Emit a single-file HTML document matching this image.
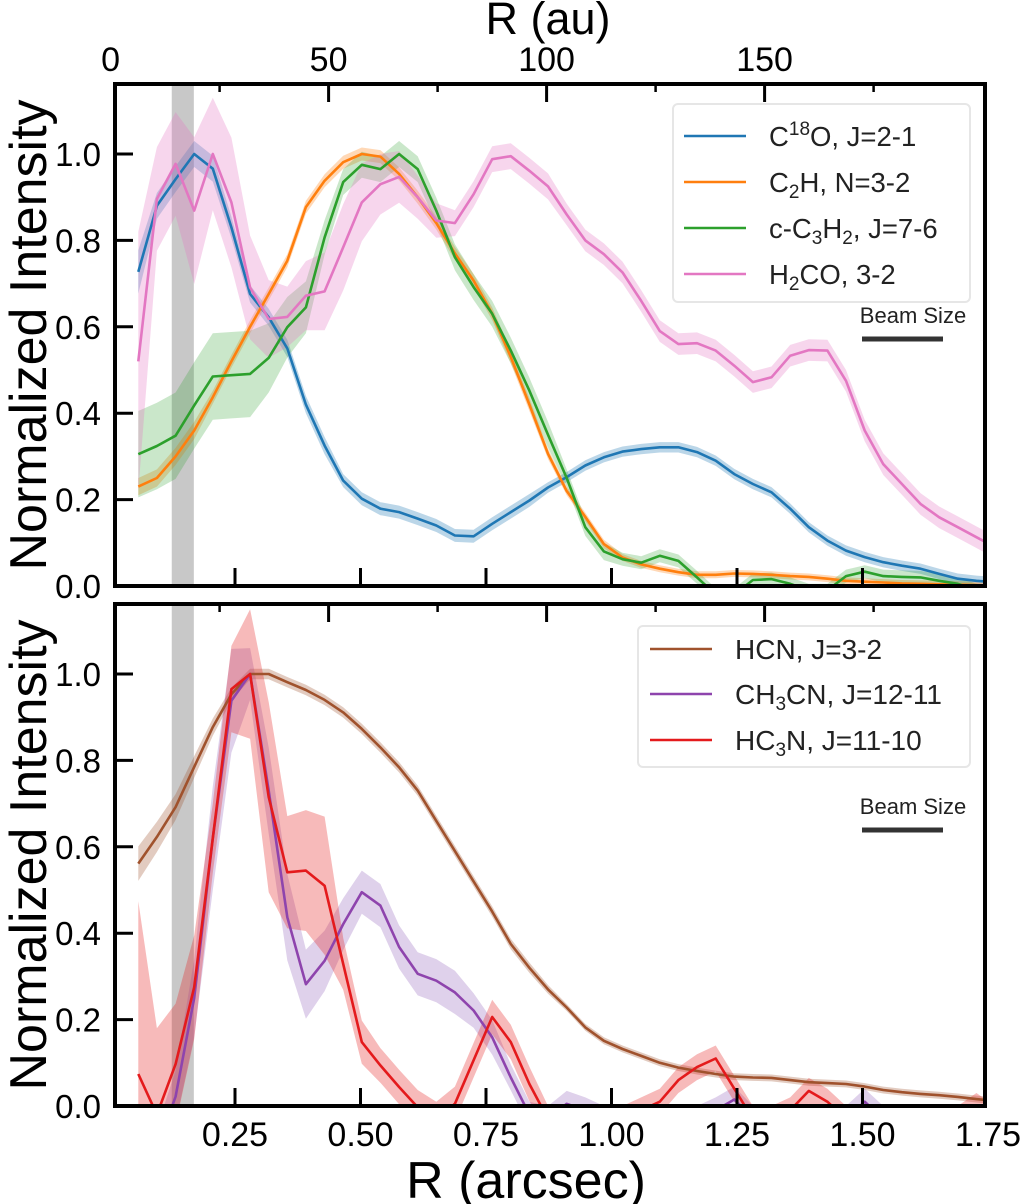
<!DOCTYPE html>
<html><head><meta charset="utf-8"><style>
html,body{margin:0;padding:0;background:#fff;}
svg{display:block;font-family:"Liberation Sans",Arial,sans-serif;}
</style></head><body>
<svg id="chart" width="1020" height="1204" viewBox="0 0 1020 1204" xmlns="http://www.w3.org/2000/svg"></svg>
<script>
// ---- data ----
const xStart = 0.0574, xStep = 0.0371;
const c18o = [0.727,0.88,0.942,1.0,0.966,0.83,0.676,0.622,0.55,0.42,0.325,0.244,0.202,0.179,0.171,0.156,0.14,0.117,0.115,0.144,0.171,0.198,0.228,0.252,0.279,0.298,0.311,0.317,0.321,0.321,0.31,0.29,0.259,0.236,0.217,0.179,0.136,0.105,0.082,0.067,0.055,0.047,0.04,0.028,0.017,0.012,0.009];
const c18oErr = [0.05,0.03,0.03,0.03,0.03,0.025,0.02,0.02,0.02,0.02,0.02,0.015,0.015,0.015,0.015,0.015,0.015,0.015,0.015,0.015,0.015,0.015,0.012,0.012,0.012,0.012,0.012,0.012,0.012,0.012,0.012,0.012,0.012,0.012,0.012,0.012,0.012,0.012,0.012,0.012,0.012,0.012,0.012,0.012,0.012,0.012,0.012];
const c2h = [0.23,0.25,0.30,0.36,0.437,0.52,0.60,0.676,0.753,0.877,0.938,0.981,1.0,0.994,0.954,0.90,0.84,0.77,0.707,0.63,0.53,0.42,0.306,0.22,0.16,0.097,0.066,0.05,0.04,0.032,0.026,0.026,0.029,0.028,0.026,0.023,0.021,0.017,0.012,0.01,0.008,0.006,0.005,0.004,0.003,0.002,0.001];
const c2hErr = [0.02,0.02,0.02,0.02,0.015,0.015,0.015,0.015,0.015,0.015,0.015,0.015,0.015,0.015,0.015,0.015,0.015,0.015,0.015,0.015,0.015,0.015,0.012,0.01,0.01,0.01,0.008,0.008,0.008,0.008,0.008,0.008,0.008,0.008,0.008,0.008,0.008,0.008,0.008,0.008,0.008,0.008,0.008,0.008,0.008,0.008,0.008];
const c3h2 = [0.305,0.324,0.348,0.418,0.485,0.488,0.491,0.528,0.599,0.645,0.807,0.935,0.975,0.965,1.0,0.965,0.869,0.761,0.692,0.63,0.545,0.452,0.35,0.25,0.136,0.08,0.062,0.054,0.07,0.058,0.02,-0.02,-0.02,0.014,0.016,0.005,-0.01,-0.01,0.023,0.033,0.023,0.021,0.02,0.012,0.005,-0.01,-0.02];
const c3h2Err = [0.1,0.1,0.1,0.1,0.1,0.1,0.1,0.08,0.07,0.06,0.04,0.03,0.03,0.03,0.03,0.03,0.03,0.03,0.03,0.03,0.03,0.03,0.03,0.02,0.02,0.02,0.015,0.015,0.015,0.015,0.015,0.015,0.015,0.015,0.015,0.015,0.015,0.015,0.015,0.015,0.015,0.015,0.015,0.015,0.015,0.015,0.015];
const h2co = [0.52,0.896,0.977,0.869,1.0,0.888,0.691,0.618,0.623,0.672,0.682,0.784,0.888,0.93,0.947,0.90,0.846,0.84,0.907,0.988,0.995,0.961,0.925,0.86,0.80,0.768,0.726,0.66,0.59,0.56,0.562,0.545,0.51,0.472,0.483,0.533,0.546,0.545,0.475,0.36,0.282,0.236,0.19,0.159,0.136,0.113,0.09];
const h2coErr = [0.3,0.12,0.12,0.17,0.13,0.15,0.12,0.09,0.07,0.08,0.09,0.1,0.09,0.07,0.06,0.05,0.04,0.03,0.03,0.03,0.03,0.03,0.03,0.025,0.025,0.025,0.025,0.025,0.025,0.025,0.025,0.025,0.025,0.025,0.025,0.025,0.025,0.025,0.025,0.025,0.025,0.025,0.025,0.025,0.025,0.025,0.025];
const hcn = [0.561,0.623,0.692,0.785,0.877,0.953,1.0,1.0,0.981,0.963,0.94,0.911,0.873,0.83,0.784,0.73,0.66,0.59,0.52,0.45,0.375,0.32,0.27,0.228,0.182,0.151,0.132,0.116,0.1,0.089,0.081,0.074,0.068,0.066,0.065,0.06,0.055,0.053,0.051,0.045,0.037,0.032,0.028,0.025,0.021,0.016,0.012];
const hcnErr = [0.04,0.035,0.03,0.025,0.02,0.015,0.012,0.012,0.012,0.012,0.012,0.012,0.012,0.012,0.012,0.012,0.012,0.012,0.012,0.012,0.012,0.012,0.01,0.008,0.008,0.008,0.008,0.008,0.008,0.008,0.008,0.008,0.008,0.008,0.008,0.008,0.008,0.008,0.008,0.008,0.008,0.008,0.008,0.008,0.008,0.008,0.008];
const ch3cn = [-0.2,-0.1,0.022,0.25,0.62,0.938,1.0,0.73,0.437,0.282,0.336,0.421,0.495,0.464,0.368,0.306,0.29,0.263,0.221,0.159,0.066,-0.02,-0.03,0.005,-0.01,-0.03,-0.03,-0.03,-0.03,-0.03,-0.03,-0.01,0.015,-0.03,-0.03,-0.03,-0.03,-0.03,-0.03,0.01,-0.03,-0.03,-0.03,-0.03,-0.03,-0.03,-0.03];
const ch3cnErr = [0.05,0.05,0.06,0.09,0.12,0.12,0.06,0.1,0.1,0.08,0.07,0.06,0.05,0.05,0.05,0.05,0.05,0.05,0.04,0.04,0.03,0.03,0.03,0.03,0.03,0.03,0.03,0.03,0.03,0.03,0.03,0.03,0.03,0.03,0.03,0.03,0.03,0.03,0.03,0.03,0.03,0.03,0.03,0.03,0.03,0.03,0.03];
const hc3n = [0.074,-0.02,0.097,0.275,0.62,0.965,1.0,0.715,0.541,0.545,0.51,0.329,0.148,0.094,0.044,-0.003,-0.03,0.005,0.106,0.206,0.148,0.051,-0.03,-0.03,-0.03,-0.03,-0.03,-0.01,0.01,0.06,0.09,0.11,0.04,-0.03,-0.03,-0.01,0.035,0.01,-0.03,-0.03,-0.03,-0.03,-0.03,-0.03,-0.03,0.0,-0.03];
const hc3nErr = [0.4,0.2,0.14,0.12,0.08,0.1,0.15,0.22,0.13,0.14,0.16,0.06,0.05,0.04,0.04,0.04,0.04,0.04,0.04,0.04,0.04,0.04,0.03,0.03,0.03,0.03,0.03,0.03,0.03,0.03,0.03,0.03,0.03,0.03,0.03,0.03,0.03,0.03,0.03,0.03,0.03,0.03,0.03,0.03,0.03,0.03,0.03];
const xTickLabels = ["0.25","0.50","0.75","1.00","1.25","1.50","1.75"];
const xTickValues = [0.25,0.5,0.75,1.0,1.25,1.5,1.75];
const yTickValues = [0,0.2,0.4,0.6,0.8,1.0];
const yTickLabels = ["0.0","0.2","0.4","0.6","0.8","1.0"];
const auTickValues = [0,50,100,150];
const auTickLabels = ["0","50","100","150"];
const auMinor = [25,75,125,175];

// ---- geometry ----
const NS = "http://www.w3.org/2000/svg";
const svg = document.getElementById('chart');
const L = 115, R = 985;
const panels = [{top:84,bot:586},{top:604,bot:1106}];
const xs = a => 109.5 + a*502;
const xau = au => 110.6 + au*4.36;
function mk(tag, attrs, parent){ const e=document.createElementNS(NS,tag); for(const k in attrs) e.setAttribute(k,attrs[k]); (parent||svg).appendChild(e); return e; }

panels.forEach((p,pi)=>{
  const ys = v => p.bot - v*432;
  const g = mk('g',{});
  
  
  const cid='clip'+pi;
  const cp=mk('clipPath',{id:cid},g); mk('rect',{x:L,y:p.top,width:R-L,height:p.bot-p.top},cp);
  const plot=mk('g',{'clip-path':`url(#${cid})`},g);
  const band=mk('rect',{x:xs(0.124),y:p.top,width:xs(0.168)-xs(0.124),height:p.bot-p.top,fill:'#c8c8c8'},plot);
  
  
  const series = pi===0 ? [
    {name:'c18o',v:c18o,e:c18oErr,c:'#1f77b4',f:'rgba(31,119,180,0.3)'},
    {name:'c2h',v:c2h,e:c2hErr,c:'#ff7f0e',f:'rgba(255,127,14,0.3)'},
    {name:'c3h2',v:c3h2,e:c3h2Err,c:'#2ca02c',f:'rgba(44,160,44,0.25)'},
    {name:'h2co',v:h2co,e:h2coErr,c:'#e377c2',f:'rgba(227,119,194,0.3)'}
  ] : [
    {name:'hcn',v:hcn,e:hcnErr,c:'#a0522d',f:'rgba(160,82,45,0.3)'},
    {name:'ch3cn',v:ch3cn,e:ch3cnErr,c:'#8e44ad',f:'rgba(148,103,189,0.3)'},
    {name:'hc3n',v:hc3n,e:hc3nErr,c:'#e41a1c',f:'rgba(228,26,28,0.3)'}
  ];
  series.forEach(s=>{
    let up='',dn='';
    s.v.forEach((v,i)=>{ const x=xs(xStart+xStep*i); up+=(i?'L':'M')+x.toFixed(1)+','+ys(v+s.e[i]).toFixed(1); });
    for(let i=s.v.length-1;i>=0;i--){ const x=xs(xStart+xStep*i); dn+='L'+x.toFixed(1)+','+ys(s.v[i]-s.e[i]).toFixed(1); }
    const b=mk('path',{d:up+dn+'Z',fill:s.f,stroke:'none'},plot);
    
    
  });
  series.forEach(s=>{
    const d=s.v.map((v,i)=>(i?'L':'M')+xs(xStart+xStep*i).toFixed(1)+','+ys(v).toFixed(1)).join('');
    const l=mk('path',{d:d,fill:'none',stroke:s.c,'stroke-width':2.6,'stroke-linejoin':'round'},plot);
    
    
  });
  const tk=mk('g',{stroke:'#000','stroke-width':3},g);
  
  
  xTickValues.forEach(t=>{ const x=xs(t); if(x<R-2){ mk('line',{x1:x,y1:p.bot,x2:x,y2:p.bot-18},tk);} });
  auTickValues.forEach(t=>{ const x=xau(t); if(x>L+2) mk('line',{x1:x,y1:p.top,x2:x,y2:p.top+18},tk); });
  auMinor.forEach(t=>{ const x=xau(t); mk('line',{x1:x,y1:p.top,x2:x,y2:p.top+8,'stroke-width':2.5},tk); });
  yTickValues.forEach(t=>{ const y=ys(t); if(t>0){ mk('line',{x1:L,y1:y,x2:L+18,y2:y},tk);} });
  yTickValues.forEach((t,i)=>{ const tx=mk('text',{x:101,y:ys(t)+12,'text-anchor':'end','font-size':33,fill:'#000'},g); tx.textContent=yTickLabels[i];
      });
  const fr=mk('rect',{x:L,y:p.top,width:R-L,height:p.bot-p.top,fill:'none',stroke:'#000','stroke-width':4},g);
  
  
  const cy=(p.top+p.bot)/2;
  const yt=mk('text',{x:0,y:0,transform:`translate(46,${cy}) rotate(-90)`,'text-anchor':'middle','font-size':52,fill:'#000'},g);
  yt.textContent='Normalized Intensity';
  
  
  const by = pi===0?323:814, bb = pi===0?339:830;
  const bt=mk('text',{x:913,y:by,'text-anchor':'middle','font-size':22,fill:'#222'},g); bt.textContent='Beam Size';
   
  const bl=mk('line',{x1:862,y1:bb,x2:943,y2:bb,stroke:'#333','stroke-width':5},g);
   
});

xTickValues.forEach((t,i)=>{ const tx=mk('text',{x:xs(t),y:1146,'text-anchor':'middle','font-size':34,fill:'#000'}); tx.textContent=xTickLabels[i];
    });
auTickValues.forEach((t,i)=>{ const tx=mk('text',{x:xau(t),y:71,'text-anchor':'middle','font-size':34,fill:'#000'}); tx.textContent=auTickLabels[i];
    });
</script>
<svg width="1020" height="1204" style="position:absolute;left:0;top:0" xmlns="http://www.w3.org/2000/svg">
  <text x="548" y="34" text-anchor="middle" font-size="45" font-family="Liberation Sans, sans-serif">R (au)</text>
  <text x="526" y="1198" text-anchor="middle" font-size="52" font-family="Liberation Sans, sans-serif">R (arcsec)</text>
  <g font-family="Liberation Sans, sans-serif" font-size="27.5" fill="#222">
    <rect x="673" y="104" width="297" height="198" rx="5" fill="rgba(255,255,255,0.85)" stroke="#e6e6e6" stroke-width="2"/>
    <line x1="684" y1="136" x2="746" y2="136" stroke="#1f77b4" stroke-width="2.6"/>
    <text x="769" y="146">C<tspan font-size="19" dy="-11">18</tspan><tspan dy="11">O, J=2-1</tspan></text>
    <line x1="684" y1="182" x2="746" y2="182" stroke="#ff7f0e" stroke-width="2.6"/>
    <text x="769" y="192">C<tspan font-size="19" dy="6">2</tspan><tspan dy="-6">H, N=3-2</tspan></text>
    <line x1="684" y1="228" x2="746" y2="228" stroke="#2ca02c" stroke-width="2.6"/>
    <text x="769" y="238">c-C<tspan font-size="19" dy="6">3</tspan><tspan dy="-6">H</tspan><tspan font-size="19" dy="6">2</tspan><tspan dy="-6">, J=7-6</tspan></text>
    <line x1="684" y1="274" x2="746" y2="274" stroke="#e377c2" stroke-width="2.6"/>
    <text x="769" y="284">H<tspan font-size="19" dy="6">2</tspan><tspan dy="-6">CO, 3-2</tspan></text>
  </g>
  <g font-family="Liberation Sans, sans-serif" font-size="28" fill="#222">
    <rect x="638" y="626" width="332" height="141" rx="5" fill="rgba(255,255,255,0.85)" stroke="#e6e6e6" stroke-width="2"/>
    <line x1="650" y1="649" x2="712" y2="649" stroke="#a0522d" stroke-width="2.6"/>
    <text x="735" y="659">HCN, J=3-2</text>
    <line x1="650" y1="694" x2="712" y2="694" stroke="#8e44ad" stroke-width="2.6"/>
    <text x="735" y="704">CH<tspan font-size="19" dy="6">3</tspan><tspan dy="-6">CN, J=12-11</tspan></text>
    <line x1="650" y1="740" x2="712" y2="740" stroke="#e41a1c" stroke-width="2.6"/>
    <text x="735" y="750">HC<tspan font-size="19" dy="6">3</tspan><tspan dy="-6">N, J=11-10</tspan></text>
  </g>
</svg>
</body></html>
